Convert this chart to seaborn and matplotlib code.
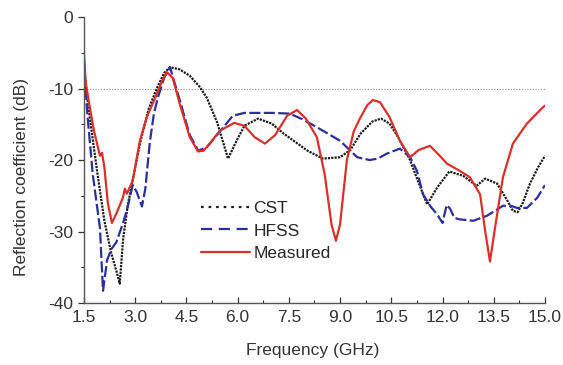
import seaborn as sns
import matplotlib.pyplot as plt
import pandas as pd

# valori (frequenza in GHz, coefficiente di riflessione in dB)
cst_f = [1.5, 1.55, 1.7, 1.9, 2.1, 2.3, 2.45, 2.55, 2.65, 2.78, 2.92, 3.15, 3.4, 3.65, 3.85, 4.02,
         4.3, 4.6, 4.9, 5.1, 5.4, 5.72, 5.95, 6.2, 6.6, 7.0, 7.35, 7.7, 8.05, 8.5, 9.0, 9.3, 9.6,
         9.95, 10.2, 10.45, 10.7, 11.05, 11.35, 11.55, 11.85, 12.2, 12.6, 13.0, 13.25, 13.6, 13.9,
         14.06, 14.2, 14.35, 14.56, 14.8, 15.0]
cst_db = [-6, -9.5, -15, -22, -28.5, -33, -35.5, -37.3, -31, -26.5, -23, -17.5, -12.8, -9.8, -7.8, -7.0,
          -7.3, -8.2, -9.8, -11.3, -14.7, -19.8, -17.5, -15.2, -14.2, -14.9, -16.3, -17.5, -18.7, -19.8,
          -19.6, -18.6, -16.3, -14.6, -14.2, -14.9, -16.8, -20, -23.8, -26.2, -23.8, -21.6, -22.2, -23.6,
          -22.6, -23.3, -25.7, -27.1, -27.3, -26, -23.3, -21, -19.4]

hfss_f = [1.5, 1.55, 1.6, 1.76, 1.97, 2.06, 2.18, 2.3, 2.45, 2.64, 2.76, 2.93, 3.05, 3.2, 3.3, 3.43,
          3.55, 3.67, 3.85, 4.02, 4.3, 4.6, 4.85, 5.1, 5.5, 5.86, 6.2, 7.0, 7.53, 7.9, 8.32, 9.0, 9.5,
          9.87, 10.1, 10.37, 10.75, 11.05, 11.25, 11.43, 11.65, 11.84, 12.0, 12.12, 12.22, 12.35, 12.5,
          12.9, 13.3, 13.77, 14.0, 14.18, 14.47, 14.77, 15.0]
hfss_db = [-6, -10, -13.5, -22, -29.5, -38.3, -34, -32.5, -31.5, -28.9, -27, -23.5, -24.5, -26.5, -24,
           -17.5, -13.5, -11.2, -8.5, -7.0, -11.5, -16.5, -18.7, -18.2, -15.9, -13.8, -13.4, -13.4, -13.5,
           -14.3, -15.4, -17.3, -19.6, -20, -19.8, -19.1, -18.4, -19.6, -21.5, -24.8, -26.5, -27.6, -28.8,
           -26.3, -26.8, -28.1, -28.3, -28.5, -27.8, -26.4, -26.4, -26.7, -26.7, -25.3, -23.5]

mis_f = [1.5, 1.55, 1.65, 1.8, 1.97, 2.03, 2.1, 2.2, 2.32, 2.45, 2.64, 2.7, 2.76, 2.93, 3.14, 3.34,
         3.64, 3.8, 3.93, 4.1, 4.31, 4.6, 4.84, 5.0, 5.2, 5.48, 5.9, 6.2, 6.5, 6.8, 7.1, 7.45, 7.74, 8.0,
         8.32, 8.55, 8.75, 8.88, 9.0, 9.2, 9.4, 9.58, 9.8, 9.96, 10.17, 10.45, 10.75, 11.05, 11.3, 11.63,
         11.9, 12.13, 12.5, 12.8, 13.1, 13.25, 13.39, 13.52, 13.77, 14.06, 14.47, 14.94, 15.0]
mis_db = [-5, -9, -12, -16, -19.4, -19, -21, -26, -28.8, -27.5, -25.3, -24, -24.7, -22.9, -17.3, -14,
          -10.7, -8.8, -7.7, -8.5, -12.2, -16.8, -18.8, -18.7, -17.6, -15.9, -14.8, -15.2, -16.8, -17.7,
          -16.5, -13.8, -13.0, -14.2, -16.8, -22, -29, -31.3, -29, -20, -16, -14.2, -12.3, -11.6, -11.9,
          -14, -17.3, -19.6, -18.6, -18, -19.3, -20.5, -21.5, -22.4, -24.8, -30, -34.2, -30, -22.4, -17.7,
          -14.9, -12.6, -12.4]

x_ticks = [1.5, 3.0, 4.5, 6.0, 7.5, 9.0, 10.5, 12.0, 13.5, 15.0]
y_ticks = [0, -10, -20, -30, -40]

sns.set_style('ticks')
plt.rcParams['font.family'] = ['Liberation Sans', 'DejaVu Sans']
plt.rcParams['axes.unicode_minus'] = False

fig = plt.figure(figsize=(5.63, 3.65), dpi=100)
ax = fig.add_axes([0.149, 0.170, 0.819, 0.783])

ax.axhline(-10, color='#999999', lw=0.9, ls=(0, (1, 1.2)), zorder=1)

sns.lineplot(x=cst_f, y=cst_db, ax=ax, color='#1c1c1c', lw=1.6,
             linestyle=(0, (1.0, 0.5)), label='CST', sort=False)
sns.lineplot(x=hfss_f, y=hfss_db, ax=ax, color='#2b2f9a', lw=1.6,
             linestyle=(0, (5, 1.5)), label='HFSS', sort=False)
sns.lineplot(x=mis_f, y=mis_db, ax=ax, color='#d9302c', lw=1.6, label='Measured', sort=False)

ax.set_xlim(1.5, 15.0)
ax.set_ylim(-40, 0)
ax.set_xticks(x_ticks)
ax.set_xticklabels([f'{v:.1f}' for v in x_ticks])
ax.set_yticks(y_ticks)
ax.set_xticks([v + 0.75 for v in x_ticks[:-1]], minor=True)
ax.set_yticks([-5, -15, -25, -35], minor=True)
ax.tick_params(axis='x', which='both', direction='in', labelsize=12.5, colors='#333333', pad=5)
ax.tick_params(axis='y', which='both', direction='out', labelsize=12.5, colors='#333333')
ax.tick_params(which='major', length=4, width=0.9)
ax.tick_params(which='minor', length=2.5, width=0.8)

ax.set_xlabel('Frequency (GHz)', fontsize=12.5, color='#333333')
ax.set_ylabel('Reflection coefficient (dB)', fontsize=12.5, color='#333333')
ax.xaxis.set_label_coords(0.497, -0.14)
ax.yaxis.set_label_coords(-0.12, 0.44)

sns.despine(ax=ax)
for s in ['left', 'bottom']:
    ax.spines[s].set_color('#555555')
    ax.spines[s].set_linewidth(1.0)

leg = ax.legend(loc='upper left', bbox_to_anchor=(0.24, 0.38), frameon=False, fontsize=12.5,
                handlelength=2.8, labelspacing=0.4, handletextpad=0.2, borderaxespad=0)
leg.get_lines()[0].set_linestyle((0, (1.2, 2.2)))
leg.get_lines()[1].set_linestyle((0, (5, 3)))

fig.savefig('out.png', dpi=100)
